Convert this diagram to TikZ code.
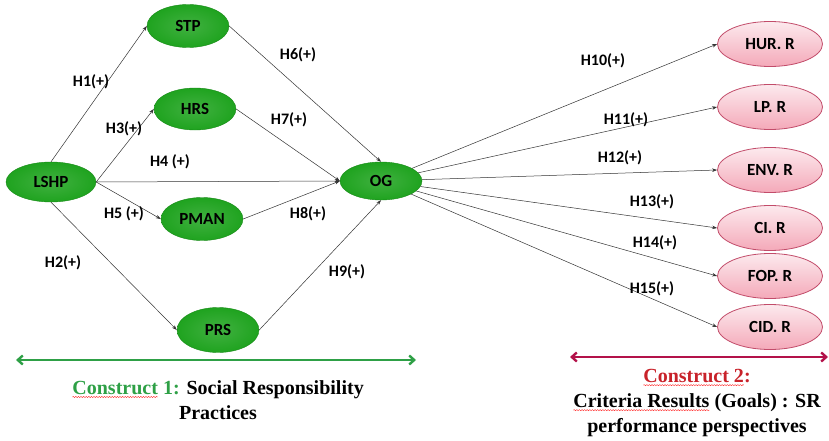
\documentclass[tikz,border=0pt]{standalone}
\usepackage{fontspec}
\setmainfont{Liberation Serif}
\newfontfamily\calfont{Carlito}
\usepackage{tikz}
\usetikzlibrary{arrows.meta}
\usetikzlibrary{shapes.geometric}
\usetikzlibrary{decorations.pathmorphing}

\definecolor{PracGreen}{HTML}{1FA31F}
\definecolor{PracLine}{HTML}{178A17}
\definecolor{GoalPink}{HTML}{F4A9B9}
\definecolor{GoalLine}{HTML}{C24C6A}
\definecolor{ConsGreen}{HTML}{2EA046}
\definecolor{ConsRed}{HTML}{B3124A}
\definecolor{ConsTitle}{HTML}{C8222A}

% spell-check squiggle under a word
\newcommand\squiggly[1]{\tikz[baseline=(w.base)]{%
   \node[inner sep=0pt, outer sep=0pt] (w) {#1};
   \draw[red!85!white, line width=0.4pt, decorate,
      decoration={snake, amplitude=0.6pt, segment length=2.6pt}]
      ([yshift=-2.4pt]w.south west) -- ([yshift=-2.4pt]w.south east);}}

\tikzset{
   prac/.style={ellipse, draw=PracLine, thin, inner color=PracGreen!85!white,
      outer color=PracGreen, minimum width=82pt, minimum height=42pt,
      inner sep=0pt, font=\calfont\bfseries\fontsize{17}{20}\selectfont},
   goal/.style={ellipse, draw=GoalLine, thick, top color=GoalPink!25!white,
      bottom color=GoalPink, minimum width=105pt, minimum height=45pt,
      inner sep=0pt, font=\calfont\bfseries\fontsize{17}{20}\selectfont},
   hyp/.style={font=\calfont\bfseries\fontsize{16}{19}\selectfont, inner sep=1pt},
   link/.style={draw=black!80, line width=0.5pt, -{Stealth[length=5pt, width=3.5pt]}},
   span/.style={line width=2.4pt, {Straight Barb[length=5pt, width=9pt]}-{Straight Barb[length=5pt, width=9pt]}},
   caption/.style={align=center, font=\bfseries\fontsize{20}{25}\selectfont}
}

\begin{document}
\begin{tikzpicture}[x=1pt, y=-1pt]
   \useasboundingbox (0,0) rectangle (829,441);

   % social responsibility practices
   \node (LSHP) at (51,182) [prac, minimum width=90pt, minimum height=40pt] {LSHP};
   \node (STP) at (188,26) [prac, minimum height=43pt] {STP};
   \node (HRS) at (195,109) [prac] {HRS};
   \node (PMAN) at (202,219) [prac, minimum height=43pt] {PMAN};
   \node (PRS) at (218,330) [prac, minimum height=45pt] {PRS};
   \node (OG) at (381,181) [prac, minimum height=38pt] {OG};

   \draw [link] (LSHP.north) -- (STP.west);
   \draw [link] (LSHP.east) -- (HRS.west);
   \draw [link] (LSHP.east) -- (OG.west);
   \draw [link] (LSHP.east) -- (PMAN.west);
   \draw [link] (LSHP.south) -- (PRS.west);
   \draw [link] (STP.east) -- (OG.north);
   \draw [link] (HRS.east) -- (OG.west);
   \draw [link] (PMAN.east) -- (OG.west);
   \draw [link] (PRS.east) -- (OG.south);

   \node (h1) at (91,82) [hyp] {H1(+)};
   \node (h2) at (63,263) [hyp] {H2(+)};
   \node (h3) at (124,129) [hyp] {H3(+)};
   \node (h4) at (170,162) [hyp] {H4 (+)};
   \node (h5) at (124,214) [hyp] {H5 (+)};
   \node (h6) at (298,55) [hyp] {H6(+)};
   \node (h7) at (289,120) [hyp] {H7(+)};
   \node (h8) at (308,214) [hyp] {H8(+)};
   \node (h9) at (347,272) [hyp] {H9(+)};

   % criteria results
   \foreach \name/\txt/\ypos/\lx/\ly/\num in {
         hur/HUR. R/44/603/61/10, lp/LP. R/107/626/120/11,
         env/ENV. R/170/620/158/12, ci/CI. R/228/652/202/13,
         fop/FOP. R/276/655/243/14, cid/CID. R/327/652/289/15} {
      \node (\name) at (770,\ypos) [goal] {\txt};
      \draw [link] (OG) -- (\name.west);
      \node (h\num) at (\lx,\ly) [hyp] {H\num(+)};
   }

   % the two constructs
   \coordinate (c1a) at (16,360);
   \coordinate (c1b) at (416,360);
   \coordinate (c2a) at (570,357);
   \coordinate (c2b) at (828,357);
   \draw [span, ConsGreen] (c1a) -- (c1b);
   \draw [span, ConsRed] (c2a) -- (c2b);

   \node (cons1) at (218,400) [caption]
      {\textcolor{ConsGreen}{\squiggly{Construct} 1:} Social Responsibility\\ Practices};
   \node (cons2) at (697,403) [caption]
      {\textcolor{ConsTitle}{\squiggly{Construct 2}:}\\
       \squiggly{Criteria Results} (Goals) : SR\\ performance perspectives};
\end{tikzpicture}
\end{document}
